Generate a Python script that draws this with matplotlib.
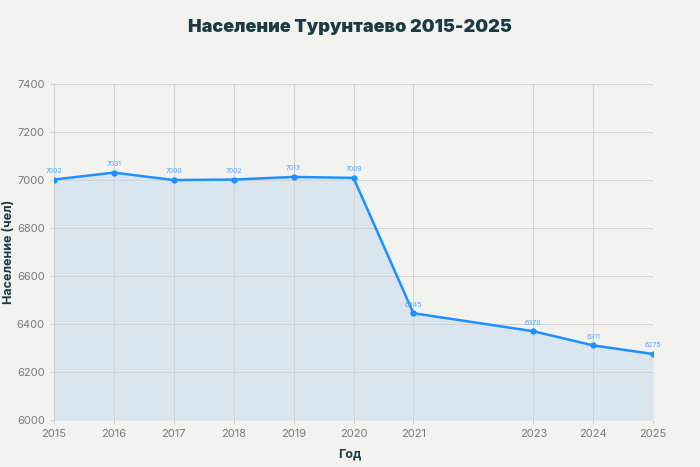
import matplotlib
matplotlib.use("Agg")
import matplotlib.pyplot as plt

years = [2015, 2016, 2017, 2018, 2019, 2020, 2021, 2023, 2024, 2025]
population = [7002, 7031, 7000, 7002, 7013, 7009, 6445, 6370, 6311, 6275]
y_ticks = [6000, 6200, 6400, 6600, 6800, 7000, 7200, 7400]

bg = "#f2f2ee"
line_color = "#1e90ff"
dark = "#1d3a44"

plt.rcParams['font.family'] = ['Inter', 'DejaVu Sans']

fig = plt.figure(figsize=(7, 4.67), dpi=100, facecolor=bg)
ax = fig.add_axes([0.077, 0.1006, 0.856, 0.7194])
ax.set_facecolor(bg)

ax.fill_between(years, population, 6000, color="#d3e3f0", alpha=0.75, linewidth=0, zorder=1)
ax.plot(years, population, color=line_color, linewidth=1.8, marker="o", markersize=3.5, zorder=3)

for x, y in zip(years, population):
    ax.annotate(str(y), (x, y), xytext=(0, 4), textcoords="offset points",
                ha="center", va="bottom", fontsize=5, color="#5aa8ff", zorder=4)

ax.set_xlim(2015, 2025)
ax.set_ylim(6000, 7400)
ax.set_xticks(years)
ax.set_yticks(y_ticks)
ax.grid(True, color="#d0d3d6", linewidth=0.7, zorder=2)
for s in ax.spines.values():
    s.set_visible(False)
ax.tick_params(axis="both", colors="#c8c8c8", labelcolor="#7a7a7a", labelsize=8, length=3, width=0.6)

fig.text(0.5, 0.026, "Год", ha="center", va="center",
         fontsize=9, fontweight="bold", color=dark)
fig.text(0.013, 0.46, "Население (чел)", ha="center", va="center", rotation=90,
         fontsize=9, fontweight="bold", color=dark)
fig.text(0.5, 0.942, "Население Турунтаево 2015-2025", ha="center", va="center",
         fontsize=13, fontweight="black", color=dark)

fig.savefig("out.png", dpi=100, facecolor=bg)
